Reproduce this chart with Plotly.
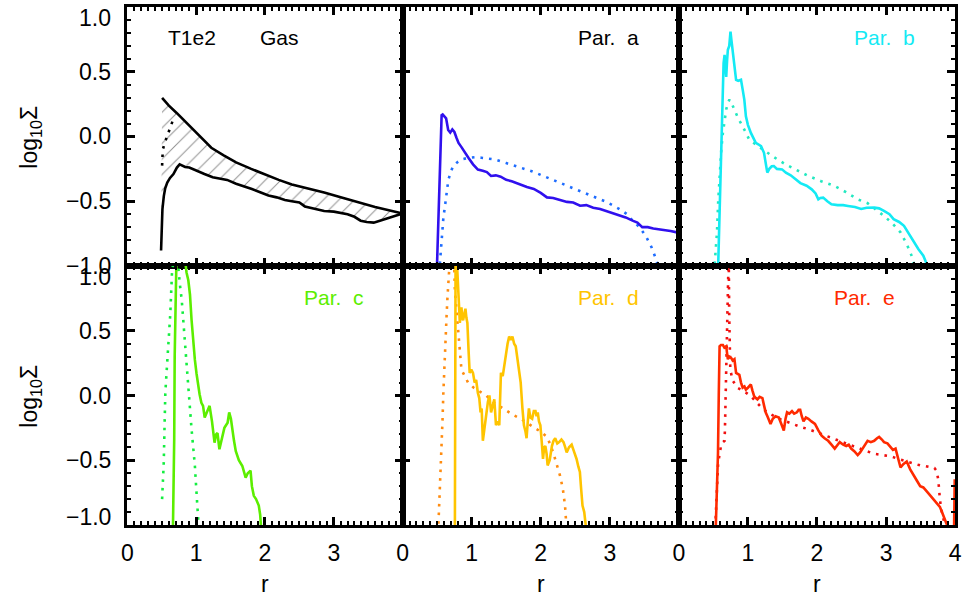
import plotly.graph_objects as go
import numpy as np

# ---------------- data ----------------
xtick_vals_mid = [0, 1, 2, 3]
xtick_text_mid = ["0", "1", "2", "3"]
xtick_vals_last = [0, 1, 2, 3, 4]
xtick_text_last = ["0", "1", "2", "3", "4"]
ytick_vals = [-1.0, -0.5, 0.0, 0.5, 1.0]
ytick_text = ["\u22121.0", "\u22120.5", "0.0", "0.5", "1.0"]

panel_labels = ["Par.\u00a0\u00a0a", "Par.\u00a0\u00a0b", "Par.\u00a0\u00a0c", "Par.\u00a0\u00a0d", "Par.\u00a0\u00a0e"]
gas_labels = ["T1e2", "Gas"]
ytitle = "log<sub>10</sub>\u03a3"
xtitle = "r"

# Gas panel (T1e2)
gas_upper_r = [0.505, 0.60, 0.72, 0.84, 0.96, 1.09, 1.22, 1.40, 1.58, 1.80, 2.00, 2.20, 2.39, 2.62, 2.86,
               3.10, 3.33, 3.60, 3.80, 3.96, 4.0]
gas_upper_y = [0.298, 0.24, 0.18, 0.115, 0.054, -0.02, -0.087, -0.145, -0.20, -0.25, -0.295, -0.335, -0.37,
               -0.40, -0.433, -0.47, -0.505, -0.545, -0.57, -0.59, -0.595]
gas_lower_r = [0.49, 0.50, 0.51, 0.53, 0.55, 0.58, 0.62, 0.67, 0.72, 0.76, 0.80, 0.84, 0.90, 0.96, 1.04, 1.12,
               1.24, 1.33, 1.45, 1.58, 1.70, 1.81, 1.93, 2.05, 2.17, 2.29, 2.39, 2.50, 2.58, 2.70, 2.86, 3.00,
               3.10, 3.20, 3.30, 3.39, 3.48, 3.58, 3.67, 3.77, 3.87, 3.96, 4.0]
gas_lower_y = [-0.88, -0.70, -0.56, -0.46, -0.40, -0.355, -0.32, -0.29, -0.24, -0.215, -0.225, -0.235, -0.24,
               -0.255, -0.27, -0.29, -0.315, -0.325, -0.335, -0.365, -0.385, -0.405, -0.43, -0.455, -0.47,
               -0.49, -0.50, -0.51, -0.54, -0.555, -0.575, -0.58, -0.59, -0.60, -0.62, -0.65, -0.66, -0.665,
               -0.65, -0.633, -0.615, -0.60, -0.595]
gas_dot_r = [0.505, 0.508, 0.515, 0.552, 0.60, 0.648, 0.67]
gas_dot_y = [-0.225, -0.165, -0.10, -0.036, 0.028, 0.105, 0.14]

# Par. a
a_sol_r = [0.495, 0.52, 0.545, 0.565, 0.58, 0.60, 0.63, 0.66, 0.69, 0.72, 0.75, 0.78, 0.81, 0.85, 0.90, 0.96,
           1.02, 1.09, 1.16, 1.22, 1.28, 1.35, 1.42, 1.50, 1.58, 1.65, 1.71, 1.80, 1.90, 2.00, 2.09, 2.18, 2.28,
           2.38, 2.47, 2.57, 2.66, 2.76, 2.86, 3.00, 3.10, 3.23, 3.33, 3.40, 3.47, 3.55, 3.63, 3.71, 3.80, 3.88,
           3.97, 3.99, 4.0]
a_sol_y = [-1.05, -0.55, -0.05, 0.165, 0.17, 0.16, 0.14, 0.05, 0.03, 0.055, 0.035, -0.01, -0.05, -0.08, -0.125,
           -0.17, -0.215, -0.255, -0.265, -0.275, -0.305, -0.30, -0.31, -0.335, -0.345, -0.36, -0.37, -0.39,
           -0.405, -0.435, -0.47, -0.475, -0.49, -0.505, -0.51, -0.535, -0.53, -0.55, -0.56, -0.585, -0.60,
           -0.625, -0.65, -0.665, -0.70, -0.70, -0.71, -0.715, -0.72, -0.73, -0.74, -0.74, -0.62]
a_dot_r = [0.53, 0.543, 0.567, 0.59, 0.614, 0.638, 0.662, 0.70, 0.733, 0.79, 0.852, 0.95, 1.05, 1.14, 1.24,
           1.33, 1.50, 1.71, 1.88, 2.04, 2.20, 2.38, 2.57, 2.76, 2.95, 3.14, 3.25, 3.33, 3.43, 3.52, 3.60, 3.66,
           3.70]
a_dot_y = [-1.05, -0.946, -0.741, -0.63, -0.536, -0.43, -0.336, -0.27, -0.228, -0.20, -0.177, -0.165, -0.16,
           -0.164, -0.17, -0.177, -0.205, -0.241, -0.27, -0.305, -0.34, -0.382, -0.42, -0.459, -0.505, -0.56,
           -0.60, -0.649, -0.70, -0.767, -0.85, -0.933, -1.0]

# Par. b
b_sol_r = [0.567, 0.59, 0.614, 0.635, 0.648, 0.662, 0.675, 0.686, 0.70, 0.71, 0.73, 0.748, 0.76, 0.781, 0.80,
           0.829, 0.86, 0.90, 0.925, 0.948, 0.971, 1.00, 1.043, 1.08, 1.114, 1.15, 1.19, 1.233, 1.26, 1.281,
           1.31, 1.345, 1.376, 1.42, 1.495, 1.55, 1.62, 1.686, 1.76, 1.85, 1.924, 1.98, 2.02, 2.05, 2.09, 2.15,
           2.21, 2.30, 2.38, 2.45, 2.55, 2.64, 2.72, 2.83, 2.90, 2.97, 3.05, 3.11, 3.19, 3.26, 3.33, 3.40, 3.47,
           3.54, 3.59, 3.62]
b_sol_y = [-1.05, -0.55, -0.10, 0.35, 0.567, 0.631, 0.55, 0.46, 0.60, 0.67, 0.70, 0.81, 0.75, 0.64, 0.55,
           0.438, 0.43, 0.438, 0.36, 0.285, 0.156, 0.09, 0.028, -0.02, -0.049, -0.06, -0.074, -0.126, -0.20,
           -0.279, -0.25, -0.23, -0.228, -0.25, -0.254, -0.28, -0.30, -0.331, -0.36, -0.38, -0.408, -0.44,
           -0.485, -0.475, -0.472, -0.50, -0.523, -0.53, -0.53, -0.536, -0.545, -0.56, -0.55, -0.549, -0.555,
           -0.575, -0.60, -0.638, -0.66, -0.69, -0.75, -0.818, -0.87, -0.92, -0.985, -1.05]
b_dot_r = [0.51, 0.519, 0.535, 0.552, 0.57, 0.59, 0.615, 0.638, 0.66, 0.686, 0.71, 0.733, 0.77, 0.805, 0.86,
           0.924, 1.019, 1.11, 1.21, 1.352, 1.543, 1.70, 1.876, 2.06, 2.257, 2.42, 2.59, 2.733, 2.85, 2.97,
           3.09, 3.21, 3.30, 3.38, 3.41]
b_dot_y = [-1.05, -0.98, -0.86, -0.741, -0.50, -0.279, -0.10, 0.028, 0.13, 0.208, 0.26, 0.285, 0.25, 0.208,
           0.14, 0.079, -0.023, -0.06, -0.10, -0.151, -0.215, -0.26, -0.305, -0.345, -0.382, -0.43, -0.485,
           -0.515, -0.56, -0.613, -0.67, -0.74, -0.83, -0.933, -1.0]

# Par. c
c_sol_r = [0.662, 0.672, 0.681, 0.688, 0.695, 0.70, 0.72, 0.76, 0.80, 0.838, 0.86, 0.886, 0.91, 0.933, 0.955,
           0.981, 1.005, 1.029, 1.05, 1.076, 1.10, 1.124, 1.16, 1.195, 1.23, 1.267, 1.29, 1.31, 1.338, 1.37,
           1.41, 1.457, 1.48, 1.505, 1.529, 1.55, 1.576, 1.62, 1.671, 1.70, 1.719, 1.75, 1.79, 1.81, 1.838,
           1.87, 1.91, 1.93, 1.948]
c_sol_y = [-1.05, -0.70, -0.338, 0.3, 1.05, 1.2, 1.25, 1.25, 1.2, 1.05, 0.95, 0.89, 0.78, 0.585, 0.42, 0.277,
           0.17, 0.072, 0.01, -0.056, -0.08, -0.17, -0.12, -0.08, -0.2, -0.364, -0.30, -0.29, -0.415, -0.33,
           -0.25, -0.21, -0.13, -0.18, -0.29, -0.35, -0.43, -0.50, -0.544, -0.60, -0.634, -0.60, -0.58, -0.70,
           -0.775, -0.80, -0.85, -0.92, -1.05]
c_dot_r = [0.505, 0.517, 0.529, 0.54, 0.552, 0.575, 0.60, 0.624, 0.648, 0.67, 0.695, 0.72, 0.743, 0.765, 0.79,
           0.815, 0.838, 0.862, 0.886, 0.91, 0.933, 0.957, 0.981, 1.005, 1.029, 1.035]
c_dot_y = [-0.80, -0.66, -0.52, -0.25, 0.02, 0.22, 0.40, 0.63, 0.94, 1.1, 1.15, 1.1, 0.94, 0.85, 0.74, 0.56,
           0.38, 0.2, 0.02, -0.12, -0.26, -0.40, -0.54, -0.75, -0.95, -1.0]

# Par. d
d_sol_r = [0.757, 0.762, 0.767, 0.78, 0.805, 0.817, 0.829, 0.84, 0.852, 0.864, 0.876, 0.893, 0.91, 0.924,
           0.938, 0.955, 0.971, 0.995, 1.019, 1.043, 1.065, 1.09, 1.11, 1.129, 1.145, 1.162, 1.185, 1.21,
           1.235, 1.257, 1.281, 1.305, 1.328, 1.352, 1.376, 1.40, 1.424, 1.45, 1.471, 1.50, 1.52, 1.543, 1.567,
           1.59, 1.615, 1.638, 1.675, 1.71, 1.735, 1.757, 1.78, 1.795, 1.81, 1.829, 1.85, 1.876, 1.90, 1.924,
           1.94, 1.957, 1.975, 1.995, 2.015, 2.033, 2.05, 2.067, 2.085, 2.10, 2.13, 2.162, 2.185, 2.21, 2.24,
           2.267, 2.30, 2.33, 2.355, 2.376, 2.41, 2.448, 2.48, 2.519, 2.545, 2.567, 2.585, 2.605, 2.63, 2.662]
d_sol_y = [-1.05, 0.0, 1.05, 1.1, 0.79, 0.65, 0.56, 0.62, 0.68, 0.60, 0.58, 0.63, 0.67, 0.60, 0.56, 0.35,
           0.175, 0.20, 0.175, 0.10, 0.12, 0.02, -0.02, -0.13, -0.10, -0.35, -0.25, -0.13, -0.05, 0.0, -0.13,
           -0.08, -0.03, -0.23, -0.20, -0.23, 0.175, 0.15, 0.23, 0.30, 0.40, 0.456, 0.43, 0.456, 0.40, 0.38,
           0.22, 0.10, -0.10, -0.23, -0.28, -0.33, -0.22, -0.10, -0.17, -0.18, -0.12, -0.12, -0.16, -0.13,
           -0.20, -0.23, -0.36, -0.49, -0.40, -0.39, -0.45, -0.54, -0.50, -0.39, -0.35, -0.33, -0.37, -0.36,
           -0.34, -0.36, -0.40, -0.44, -0.40, -0.38, -0.43, -0.49, -0.55, -0.59, -0.72, -0.85, -0.90, -1.05]
d_dot_r = [0.519, 0.531, 0.543, 0.555, 0.567, 0.578, 0.59, 0.602, 0.614, 0.626, 0.638, 0.65, 0.662, 0.675,
           0.69, 0.72, 0.745, 0.757, 0.78, 0.805, 0.828, 0.852, 0.90, 0.948, 1.03, 1.119, 1.21, 1.31, 1.40,
           1.50, 1.60, 1.71, 1.80, 1.90, 2.00, 2.09, 2.14, 2.186, 2.235, 2.28, 2.32, 2.352, 2.367]
d_dot_y = [-0.99, -0.85, -0.70, -0.55, -0.395, -0.19, 0.02, 0.21, 0.40, 0.52, 0.63, 0.76, 0.89, 1.0, 1.1, 1.15,
           1.05, 0.81, 0.65, 0.5, 0.35, 0.2, 0.15, 0.1, 0.06, 0.03, 0.0, -0.05, -0.08, -0.12, -0.15, -0.18,
           -0.21, -0.24, -0.28, -0.32, -0.38, -0.45, -0.53, -0.62, -0.72, -0.85, -0.97]

# Par. e
e_sol_r = [0.533, 0.55, 0.567, 0.578, 0.59, 0.61, 0.638, 0.66, 0.686, 0.70, 0.71, 0.73, 0.757, 0.78, 0.805,
           0.829, 0.85, 0.876, 0.90, 0.924, 0.95, 0.971, 1.0, 1.043, 1.065, 1.09, 1.115, 1.138, 1.17, 1.21,
           1.235, 1.257, 1.29, 1.328, 1.36, 1.40, 1.448, 1.48, 1.52, 1.545, 1.567, 1.60, 1.638, 1.67, 1.71,
           1.735, 1.757, 1.78, 1.805, 1.84, 1.876, 1.92, 1.971, 2.02, 2.067, 2.11, 2.162, 2.21, 2.257, 2.30,
           2.33, 2.38, 2.424, 2.46, 2.495, 2.54, 2.59, 2.625, 2.662, 2.70, 2.733, 2.78, 2.829, 2.87, 2.90,
           2.94, 2.971, 3.02, 3.067, 3.10, 3.138, 3.17, 3.21, 3.25, 3.30, 3.35, 3.40, 3.45, 3.495, 3.54, 3.59,
           3.64, 3.686, 3.73, 3.78, 3.81, 3.829, 3.855, 3.876, 3.92, 3.985, 3.995]
e_sol_y = [-1.05, -0.80, -0.44, 0.0, 0.38, 0.39, 0.39, 0.37, 0.38, 0.32, 0.28, 0.30, 0.29, 0.27, 0.28, 0.175,
           0.17, 0.16, 0.10, 0.06, 0.07, 0.046, 0.06, 0.085, 0.04, -0.005, -0.02, -0.03, -0.01, -0.02, -0.08,
           -0.13, -0.17, -0.22, -0.18, -0.16, -0.17, -0.22, -0.27, -0.18, -0.13, -0.14, -0.12, -0.14, -0.13,
           -0.11, -0.11, -0.16, -0.20, -0.17, -0.18, -0.20, -0.22, -0.27, -0.31, -0.33, -0.35, -0.38, -0.41,
           -0.38, -0.36, -0.38, -0.39, -0.38, -0.41, -0.43, -0.46, -0.44, -0.41, -0.38, -0.35, -0.36, -0.35,
           -0.33, -0.32, -0.34, -0.36, -0.37, -0.40, -0.42, -0.41, -0.47, -0.556, -0.53, -0.51, -0.57, -0.62,
           -0.66, -0.70, -0.71, -0.74, -0.77, -0.80, -0.83, -0.86, -0.90, -0.93, -0.96, -0.99, -1.05, -1.05,
           -0.646]
e_dot_r = [0.533, 0.55, 0.567, 0.59, 0.614, 0.64, 0.662, 0.668, 0.676, 0.686, 0.695, 0.705, 0.715, 0.722,
           0.73, 0.745, 0.78, 0.85, 0.95, 1.043, 1.12, 1.21, 1.28, 1.352, 1.45, 1.55, 1.638, 1.75, 1.876, 2.00,
           2.114, 2.24, 2.362, 2.48, 2.6, 2.72, 2.83, 2.97, 3.07, 3.18, 3.3, 3.40, 3.495, 3.57, 3.64, 3.70,
           3.73, 3.757, 3.78, 3.80, 3.83, 3.85]
e_dot_y = [-0.95, -0.75, -0.54, -0.45, -0.38, -0.36, -0.35, -0.25, -0.06, 0.27, 0.5, 0.76, 1.05, 1.1, 0.6,
           0.2, 0.115, 0.06, 0.03, -0.005, -0.05, -0.10, -0.13, -0.15, -0.18, -0.20, -0.22, -0.24, -0.26,
           -0.285, -0.31, -0.335, -0.36, -0.385, -0.41, -0.43, -0.45, -0.46, -0.47, -0.49, -0.51, -0.53, -0.54,
           -0.545, -0.55, -0.56, -0.58, -0.65, -0.8, -0.88, -0.95, -1.0]

# ---------------- styling ----------------
W, H = 968, 596
FONT = "Liberation Sans"


def pxx(x):
    return x / W


def pxy(y):
    return 1 - y / H


xdom = [[pxx(123), pxx(402)], [pxx(402), pxx(682)], [pxx(682), pxx(962)]]
ydom = [[pxy(266), pxy(7)], [pxy(525), pxy(266)]]

SOLID_W = 2.6
DOT = "2.6px,6px"

fig = go.Figure()

# gas hatched band
poly_r = list(gas_upper_r) + list(gas_lower_r[::-1])
poly_y = list(gas_upper_y) + list(gas_lower_y[::-1])
fig.add_trace(go.Scatter(x=poly_r, y=poly_y, xaxis="x", yaxis="y", mode="lines", fill="toself",
                         line=dict(width=0, color="rgba(0,0,0,0)"), fillcolor="rgba(0,0,0,0)",
                         fillpattern=dict(shape="/", size=11, solidity=0.09, fgcolor="#222",
                                          bgcolor="rgba(0,0,0,0)"),
                         hoverinfo="skip", showlegend=False))
fig.add_trace(go.Scatter(x=gas_upper_r, y=gas_upper_y, xaxis="x", yaxis="y", mode="lines",
                         line=dict(color="black", width=SOLID_W), showlegend=False))
fig.add_trace(go.Scatter(x=gas_lower_r, y=gas_lower_y, xaxis="x", yaxis="y", mode="lines",
                         line=dict(color="black", width=SOLID_W), showlegend=False))
fig.add_trace(go.Scatter(x=gas_dot_r, y=gas_dot_y, xaxis="x", yaxis="y", mode="lines",
                         line=dict(color="black", width=SOLID_W, dash=DOT), showlegend=False))

series = [
    ("x2", "y2", a_sol_r, a_sol_y, a_dot_r, a_dot_y, "#3010ee", "#1e6cff"),
    ("x3", "y3", b_sol_r, b_sol_y, b_dot_r, b_dot_y, "#14eaf4", "#22e8c0"),
    ("x4", "y4", c_sol_r, c_sol_y, c_dot_r, c_dot_y, "#5cee00", "#14ee40"),
    ("x5", "y5", d_sol_r, d_sol_y, d_dot_r, d_dot_y, "#ffc400", "#ff8c10"),
    ("x6", "y6", e_sol_r, e_sol_y, e_dot_r, e_dot_y, "#ff2a00", "#f01010"),
]
for xa, ya, sr, sy, dr, dy, sc, dc in series:
    fig.add_trace(go.Scatter(x=dr, y=dy, xaxis=xa, yaxis=ya, mode="lines",
                             line=dict(color=dc, width=SOLID_W, dash=DOT), showlegend=False))
    fig.add_trace(go.Scatter(x=sr, y=sy, xaxis=xa, yaxis=ya, mode="lines",
                             line=dict(color=sc, width=SOLID_W), showlegend=False))

common = dict(showline=True, linecolor="black", linewidth=2.5, mirror="allticks", ticks="inside",
              ticklen=8, tickwidth=2.5, tickcolor="black", showgrid=False, zeroline=False,
              minor=dict(tickmode="linear", tick0=0, dtick=0.1, ticks="inside", ticklen=4, tickwidth=1.8,
                         tickcolor="black", showgrid=False))

layout = dict(width=W, height=H, margin=dict(l=0, r=0, t=0, b=0), paper_bgcolor="white",
              plot_bgcolor="white", showlegend=False, font=dict(family=FONT, color="black", size=22))

for i in range(6):
    row, col = divmod(i, 3)
    sfx = "" if i == 0 else str(i + 1)
    if col == 2:
        tv, tt = xtick_vals_last, xtick_text_last
    else:
        tv, tt = xtick_vals_mid, xtick_text_mid
    layout["xaxis" + sfx] = dict(common, domain=xdom[col], range=[0, 4], tickmode="array",
                                 tickvals=tv, ticktext=tt, showticklabels=(row == 1),
                                 anchor="y" + sfx, tickfont=dict(size=23, family=FONT),
                                 ticklabelstandoff=6, ticklabeloverflow="allow")
    layout["yaxis" + sfx] = dict(common, domain=ydom[row], range=[-1, 1], tickmode="array",
                                 tickvals=ytick_vals, showticklabels=False, anchor="x" + sfx)

fig.update_layout(**layout)

ann = []
# y tick labels (left column)
yshift_rows = [[0, 0, 0, 0, -11], [8, 0, 0, 0, -11]]
for row, yref in enumerate(["y", "y4"]):
    for v, t, s in zip(ytick_vals, ytick_text, yshift_rows[row]):
        ann.append(dict(x=pxx(108), xref="paper", y=v, yref=yref, text=t, showarrow=False,
                        xanchor="right", yanchor="middle", yshift=s, font=dict(size=23, family=FONT)))
# y titles
for yc in [137, 396]:
    ann.append(dict(x=pxx(24), y=pxy(yc), xref="paper", yref="paper", text=ytitle, textangle=-90,
                    showarrow=False, xanchor="center", yanchor="middle", font=dict(size=23, family=FONT)))
# x titles
for xc in [263, 542, 822]:
    ann.append(dict(x=pxx(xc), y=pxy(584), xref="paper", yref="paper", text=xtitle, showarrow=False,
                    xanchor="center", yanchor="middle", font=dict(size=23, family=FONT)))
# panel labels
ann.append(dict(x=pxx(189), y=pxy(38), xref="paper", yref="paper", text=gas_labels[0], showarrow=False,
                xanchor="center", yanchor="middle", font=dict(size=21, family=FONT, color="black")))
ann.append(dict(x=pxx(277), y=pxy(38), xref="paper", yref="paper", text=gas_labels[1], showarrow=False,
                xanchor="center", yanchor="middle", font=dict(size=21, family=FONT, color="black")))
lab_pos = [(611, 38), (890, 38), (332, 297), (611, 297), (870, 297)]
lab_col = ["black", "#14eaf4", "#5cee00", "#ffc400", "#ff2a00"]
for t, (lx, ly), c in zip(panel_labels, lab_pos, lab_col):
    ann.append(dict(x=pxx(lx), y=pxy(ly), xref="paper", yref="paper", text=t, showarrow=False,
                    xanchor="center", yanchor="middle", font=dict(size=21, family=FONT, color=c)))

fig.update_layout(annotations=ann)
fig.write_html("out.html", config={"displayModeBar": False},
               post_script="document.body.style.margin='0';document.body.style.padding='0';")
